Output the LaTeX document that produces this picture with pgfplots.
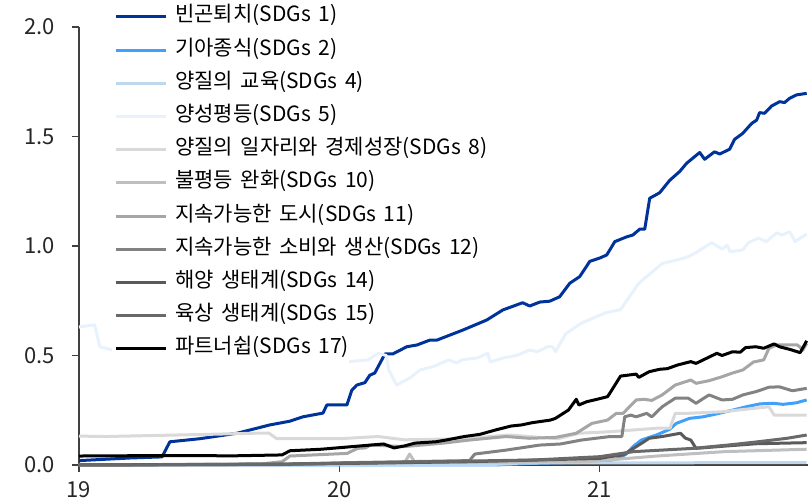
\documentclass[border=0pt]{standalone}
\usepackage{fontspec}
\setmainfont{Noto Sans CJK KR}
\newfontfamily\legfont{Noto Sans CJK KR}[WordSpace=1.6]
\usepackage{pgfplots}
\pgfplotsset{compat=1.18}

\definecolor{sdgA}{RGB}{0,51,153}
\definecolor{sdgB}{RGB}{64,160,250}
\definecolor{sdgD}{RGB}{189,215,238}
\definecolor{sdgE}{RGB}{232,242,252}
\definecolor{sdgH}{RGB}{217,217,217}
\definecolor{sdgJ}{RGB}{191,191,191}
\definecolor{sdgK}{RGB}{166,166,166}
\definecolor{sdgL}{RGB}{130,130,130}
\definecolor{sdgN}{RGB}{90,90,90}
\definecolor{sdgO}{RGB}{105,105,105}
\definecolor{axgray}{RGB}{64,64,64}

\begin{document}
\begin{tikzpicture}
\begin{axis}[
    at={(0,0)}, anchor=south west,
    scale only axis,
    width=364.5pt, height=219pt,
    xmin=19, xmax=21.8,
    ymin=0, ymax=2,
    axis x line=bottom, axis y line=left,
    axis line style={-, axgray, line width=0.6pt},
    tick style={axgray, line width=0.6pt},
    tick align=outside,
    major tick length=3.5pt,
    xtick={19,20,21},
    ytick={0,0.5,1,1.5,2},
    tick label style={font=\fontsize{11}{13}\selectfont, text=black!85},
    /pgf/number format/assume math mode=true,
    yticklabel style={xshift=-5pt, /pgf/number format/.cd, fixed, fixed zerofill, precision=1},
    xticklabel style={yshift=-1pt, /pgf/number format/.cd, fixed, precision=0},
    clip=false,
    every axis plot/.append style={line width=1.5pt, line join=round},
    legend cell align=left,
    legend image code/.code={
        \fill[white] (-1pt,-5pt) rectangle (29pt,5pt);
        \draw[#1] (0pt,0pt) -- (25pt,0pt);},
    legend style={
        at={(rel axis cs:0.045,1.062)}, anchor=north west,
        draw=none, fill=none,
        font=\legfont\fontsize{10.5}{12}\selectfont,
        inner xsep=0pt, inner ysep=0pt,
        row sep=0pt,
        nodes={inner sep=0pt, fill=white, text height=10.8pt, text depth=5.8pt, xshift=1pt},
    },
]
% SDGs 1
\addplot[sdgA] coordinates {
(19.000,0.020) (19.081,0.025) (19.196,0.032) (19.319,0.037) (19.349,0.106)
(19.464,0.120) (19.607,0.145) (19.733,0.183) (19.810,0.200) (19.860,0.220)
(19.937,0.237) (19.952,0.274) (20.029,0.274) (20.048,0.342) (20.067,0.365)
(20.098,0.376) (20.117,0.410) (20.136,0.420) (20.175,0.507) (20.205,0.507)
(20.259,0.540) (20.298,0.548) (20.347,0.570) (20.374,0.570) (20.474,0.616)
(20.566,0.662) (20.628,0.708) (20.704,0.741) (20.731,0.726) (20.770,0.744)
(20.808,0.748) (20.846,0.768) (20.885,0.830) (20.923,0.860) (20.962,0.930)
(21.000,0.945) (21.027,0.959) (21.058,1.020) (21.104,1.042) (21.127,1.050)
(21.154,1.077) (21.173,1.077) (21.192,1.218) (21.230,1.243) (21.269,1.300)
(21.307,1.340) (21.334,1.378) (21.384,1.427) (21.403,1.396) (21.441,1.430)
(21.461,1.420) (21.499,1.442) (21.518,1.487) (21.549,1.514) (21.584,1.560)
(21.603,1.575) (21.614,1.609) (21.633,1.606) (21.660,1.639) (21.691,1.659)
(21.710,1.655) (21.729,1.674) (21.756,1.690) (21.795,1.697)
};
\addlegendentry{빈곤퇴치(SDGs 1)}
% SDGs 2
\addplot[sdgB] coordinates {
(19.000,0.000) (20.600,0.000) (20.750,0.008) (20.950,0.012) (21.013,0.015)
(21.064,0.026) (21.102,0.050) (21.128,0.084) (21.160,0.114) (21.218,0.137)
(21.269,0.163) (21.294,0.190) (21.345,0.213) (21.397,0.220) (21.448,0.233)
(21.512,0.251) (21.563,0.266) (21.615,0.279) (21.665,0.282) (21.704,0.277)
(21.755,0.284) (21.795,0.297)
};
\addlegendentry{기아종식(SDGs 2)}
% SDGs 4
\addplot[sdgD] coordinates {
(19.000,0.000) (20.600,0.003) (20.700,0.009) (21.200,0.010) (21.795,0.011)
};
\addlegendentry{양질의 교육(SDGs 4)}
% SDGs 5
\addplot[sdgE] coordinates {
(19.000,0.630) (19.060,0.640) (19.080,0.540) (19.130,0.525) (19.300,0.530)
(19.500,0.520) (19.750,0.500) (19.830,0.470) (19.920,0.465) (20.020,0.470)
(20.110,0.480) (20.150,0.510) (20.180,0.500) (20.190,0.434) (20.220,0.365)
(20.270,0.397) (20.310,0.434) (20.360,0.449) (20.420,0.480) (20.450,0.466)
(20.470,0.480) (20.530,0.489) (20.570,0.510) (20.580,0.470) (20.630,0.489)
(20.680,0.500) (20.730,0.525) (20.760,0.517) (20.800,0.540) (20.820,0.540)
(20.830,0.517) (20.870,0.600) (20.930,0.648) (21.020,0.694) (21.080,0.710)
(21.150,0.830) (21.240,0.920) (21.310,0.940) (21.340,0.951) (21.370,0.970)
(21.430,1.015) (21.470,0.986) (21.490,1.005) (21.500,0.974) (21.550,0.982)
(21.570,1.015) (21.610,1.036) (21.640,1.020) (21.680,1.060) (21.700,1.050)
(21.730,1.065) (21.750,1.020) (21.795,1.055)
};
\addlegendentry{양성평등(SDGs 5)}
% SDGs 8
\addplot[sdgH] coordinates {
(19.000,0.132) (19.100,0.130) (19.300,0.135) (19.500,0.140) (19.670,0.145)
(19.730,0.145) (19.760,0.120) (20.000,0.120) (20.150,0.130) (20.250,0.115)
(20.480,0.120) (20.650,0.137) (20.840,0.120) (20.920,0.145) (21.040,0.152)
(21.220,0.168) (21.270,0.168) (21.290,0.236) (21.340,0.236) (21.470,0.243)
(21.650,0.266) (21.670,0.228) (21.795,0.228)
};
\addlegendentry{양질의 일자리와 경제성장(SDGs 8)}
% SDGs 10
\addplot[sdgJ] coordinates {
(19.000,0.000) (19.750,0.000) (20.000,0.008) (20.250,0.010) (20.270,0.050)
(20.290,0.012) (20.600,0.013) (20.950,0.015) (21.220,0.041) (21.480,0.061)
(21.795,0.072)
};
\addlegendentry{불평등 완화(SDGs 10)}
% SDGs 11
\addplot[sdgK] coordinates {
(19.000,0.000) (19.700,0.005) (19.780,0.015) (19.810,0.041) (20.030,0.053)
(20.070,0.076) (20.100,0.078) (20.120,0.091) (20.250,0.084) (20.400,0.100)
(20.500,0.114) (20.640,0.130) (20.730,0.122) (20.830,0.126) (20.910,0.145)
(20.970,0.190) (21.030,0.205) (21.064,0.236) (21.090,0.236) (21.140,0.297)
(21.170,0.300) (21.200,0.295) (21.240,0.320) (21.290,0.365) (21.350,0.388)
(21.370,0.373) (21.420,0.385) (21.470,0.403) (21.510,0.420) (21.550,0.434)
(21.590,0.470) (21.630,0.480) (21.650,0.533) (21.680,0.548) (21.760,0.548)
(21.780,0.525) (21.795,0.555)
};
\addlegendentry{지속가능한 도시(SDGs 11)}
% SDGs 12
\addplot[sdgL] coordinates {
(19.000,0.000) (19.750,0.003) (20.000,0.010) (20.500,0.020) (20.520,0.050)
(20.640,0.068) (20.770,0.091) (20.850,0.096) (20.930,0.114) (21.040,0.130)
(21.085,0.130) (21.096,0.220) (21.120,0.228) (21.140,0.220) (21.180,0.236)
(21.200,0.220) (21.240,0.266) (21.290,0.305) (21.340,0.305) (21.370,0.282)
(21.400,0.305) (21.420,0.320) (21.470,0.297) (21.510,0.300) (21.550,0.320)
(21.600,0.335) (21.650,0.355) (21.690,0.357) (21.740,0.339) (21.795,0.350)
};
\addlegendentry{지속가능한 소비와 생산(SDGs 12)}
% SDGs 14
\addplot[sdgN] coordinates {
(19.000,0.000) (19.900,0.005) (20.500,0.015) (21.000,0.030) (21.040,0.038)
(21.090,0.046) (21.130,0.076) (21.170,0.106) (21.190,0.122) (21.240,0.130)
(21.310,0.145) (21.330,0.122) (21.350,0.114) (21.370,0.076) (21.500,0.088)
(21.600,0.097) (21.795,0.102)
};
\addlegendentry{해양 생태계(SDGs 14)}
% SDGs 15
\addplot[sdgO] coordinates {
(19.000,0.000) (19.800,0.003) (20.000,0.008) (20.500,0.018) (20.750,0.023)
(21.000,0.038) (21.130,0.061) (21.360,0.076) (21.500,0.092) (21.600,0.105)
(21.720,0.122) (21.795,0.137)
};
\addlegendentry{육상 생태계(SDGs 15)}
% SDGs 17
\addplot[black] coordinates {
(19.000,0.041) (19.300,0.043) (19.600,0.042) (19.780,0.046) (19.810,0.065)
(19.930,0.072) (20.030,0.082) (20.120,0.091) (20.170,0.096) (20.210,0.078)
(20.250,0.087) (20.290,0.100) (20.370,0.106) (20.410,0.114) (20.480,0.130)
(20.540,0.140) (20.600,0.160) (20.660,0.178) (20.700,0.183) (20.740,0.193)
(20.810,0.205) (20.830,0.213) (20.880,0.251) (20.910,0.300) (20.920,0.274)
(20.950,0.289) (20.990,0.300) (21.030,0.312) (21.040,0.330) (21.080,0.406)
(21.140,0.415) (21.150,0.400) (21.190,0.426) (21.230,0.437) (21.260,0.440)
(21.300,0.457) (21.350,0.472) (21.370,0.464) (21.410,0.487) (21.450,0.510)
(21.470,0.500) (21.510,0.517) (21.540,0.515) (21.560,0.536) (21.600,0.540)
(21.630,0.533) (21.670,0.553) (21.690,0.540) (21.730,0.528) (21.770,0.513)
(21.795,0.567)
};
\addlegendentry{파트너쉽(SDGs 17)}
\end{axis}
\pgfresetboundingbox
\path[use as bounding box] (-39.5pt,-19.5pt) rectangle (365.5pt,232.5pt);
\end{tikzpicture}
\end{document}
